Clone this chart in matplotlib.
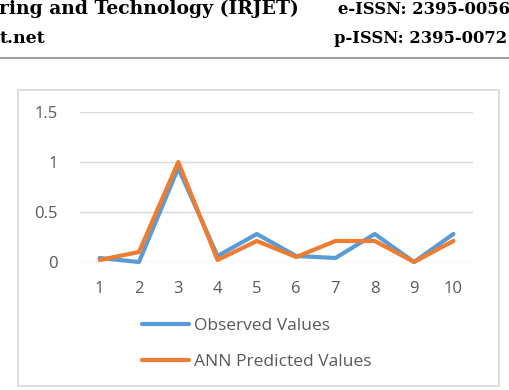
import matplotlib
matplotlib.use("Agg")
import matplotlib.pyplot as plt
from matplotlib.patches import Rectangle
from matplotlib.lines import Line2D

categories = ["1", "2", "3", "4", "5", "6", "7", "8", "9", "10"]
observed = [0.04, 0.00, 0.94, 0.06, 0.28, 0.06, 0.04, 0.28, 0.00, 0.28]
predicted = [0.02, 0.10, 1.00, 0.02, 0.21, 0.05, 0.21, 0.21, 0.00, 0.21]
yticks = [0, 0.5, 1, 1.5]
ytick_labels = ["0", "0.5", "1", "1.5"]
series_names = ["Observed Values", "ANN Predicted Values"]

W, H = 509, 390
fig = plt.figure(figsize=(W / 100, H / 100), dpi=100)
fig.patch.set_facecolor("white")

def fx(px):
    return px / W

def fy(py):
    return 1 - py / H

# Header text (page header of the source document, cut off at the edges)
serif = ["DejaVu Serif", "Liberation Serif"]
fig.text(fx(-1), fy(14), "ring and Technology (IRJET)", fontsize=13.5, fontweight="bold",
         family=serif, ha="left", va="baseline", color="#000000")
fig.text(fx(510), fy(14), "e-ISSN: 2395-0056", fontsize=11.8, fontweight="bold",
         family=serif, ha="right", va="baseline", color="#000000")
fig.text(fx(0), fy(43), "t.net", fontsize=12.5, fontweight="bold",
         family=serif, ha="left", va="baseline", color="#000000")
fig.text(fx(507), fy(43), "p-ISSN: 2395-0072", fontsize=11.8, fontweight="bold",
         family=serif, ha="right", va="baseline", color="#000000")
fig.add_artist(Line2D([0, 1], [fy(58), fy(58)], color="#8c8c8c", lw=1.2))

# Chart border
fig.add_artist(Rectangle((fx(18), fy(386)), fx(499) - fx(18), fy(90) - fy(386),
                         fill=False, edgecolor="#d9d9d9", lw=1.2))

# Plot area
left, right, top, bottom = 80, 473, 112, 262
ax = fig.add_axes([fx(left), fy(bottom), fx(right) - fx(left), fy(top) - fy(bottom)])
ax.set_facecolor("none")
x = list(range(1, len(categories) + 1))
ax.set_xlim(0.5, len(categories) + 0.5)
ax.set_ylim(0, 1.5)
for v in yticks:
    ax.axhline(v, color="#d9d9d9", lw=1, zorder=0)
l1, = ax.plot(x, observed, color="#5B9BD5", lw=3, clip_on=False, zorder=3,
              solid_joinstyle="round", solid_capstyle="round")
l2, = ax.plot(x, predicted, color="#ED7D31", lw=3, clip_on=False, zorder=4,
              solid_joinstyle="round", solid_capstyle="round")
for s in ax.spines.values():
    s.set_visible(False)
font = "Open Sans"
fs = 12
ax.set_xticks(x)
ax.set_xticklabels(categories)
ax.set_yticks(yticks)
ax.set_yticklabels(ytick_labels)
ax.tick_params(axis="both", length=0, labelcolor="#595959", labelsize=fs)
ax.tick_params(axis="y", pad=16)
ax.tick_params(axis="x", pad=14)
for lab in ax.get_xticklabels() + ax.get_yticklabels():
    lab.set_family(font)

leg = fig.legend([l1, l2], series_names, loc="upper left",
                 bbox_to_anchor=(fx(142), fy(318)), frameon=False,
                 prop={"family": font, "size": 12.5}, handlelength=2.7,
                 handletextpad=0.3, labelspacing=1.15, borderpad=0, borderaxespad=0)
for t in leg.get_texts():
    t.set_color("#595959")

fig.savefig("out.png", dpi=100, facecolor="white")
